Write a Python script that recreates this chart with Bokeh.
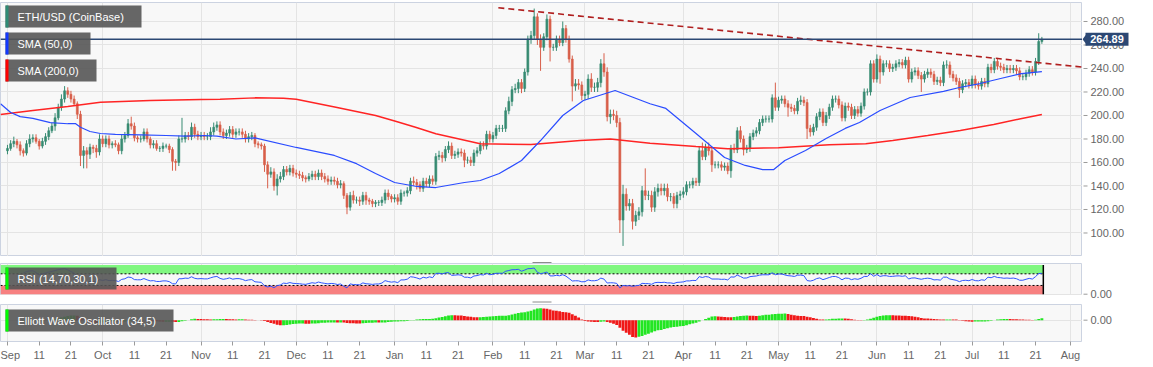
import datetime as dt
import numpy as np
import pandas as pd
from bokeh.plotting import figure
from bokeh.layouts import column, row
from bokeh.models import Range1d, FixedTicker, Span, BoxAnnotation, Label
from bokeh.core.properties import value
from bokeh.embed import file_html
from bokeh.resources import INLINE

START = dt.date(2019, 9, 1)

# ---------------- data (daily ETH/USD, Coinbase) ----------------
first_open = 170.0
close_sep = [172,176,178,175,170,168,176,180,181,178,
             174,178,182,187,191,198,207,214,221,218,
             214,210,201,166,170,167,173,172,169,180]
close_oct = [176,180,175,176,175,170,180,183,193,191,
             181,180,180,186,180,175,176,172,172,174,
             174,171,161,160,180,180,183,182,190,184,
             182]
close_nov = [183,182,182,186,190,192,186,183,185,188,
             184,186,186,184,180,182,183,176,175,174,
             158,150,152,140,146,148,154,152,155,151]
close_dec = [150,149,147,146,148,150,148,151,148,146,
             144,145,144,141,142,132,122,132,128,128,
             127,132,128,127,125,126,126,128,134,131,
             129]
close_jan = [130,127,134,134,136,144,143,141,138,144,
             142,146,144,165,166,164,171,174,166,167,
             169,168,162,162,160,168,170,175,174,184,
             180]
close_feb = [183,189,189,189,204,212,222,223,228,223,
             237,265,268,284,265,258,267,282,258,258,
             265,262,274,265,248,225,227,226,217]
close_mar = [218,231,224,224,228,244,237,199,201,200,
             194,111,133,123,125,110,115,118,136,132,
             132,122,135,138,136,138,131,131,125,132,
             133]
close_apr = [135,141,141,144,143,170,165,173,170,158,
             158,158,156,157,153,172,171,187,180,171,
             172,182,185,187,194,197,197,197,215,207]
close_may = [213,214,210,207,206,204,212,213,211,189,
             186,190,199,203,194,200,207,214,214,209,
             198,208,207,200,205,202,208,220,220,244,
             231]
close_jun = [248,237,244,244,240,241,244,245,243,247,
             231,237,238,234,231,235,237,235,229,230,
             228,243,243,235,232,229,222,227,228,226]
close_jul = [231,226,225,229,227,241,239,246,242,241,
             239,240,239,240,238,233,233,236,239,237,
             246,263,264.89]

# wick lengths above the body / below the body (USD)
upper_sep = [3,3,4,2,3,2,3,4,3,3, 2,3,3,3,3,4,3,4,4,3, 3,3,2,3,4,3,3,2,3,4]
lower_sep = [3,2,3,3,4,3,2,3,3,2, 3,2,3,3,2,4,2,3,3,3, 3,2,4,9,11,12,4,4,5,3]
upper_oct = [3,3,3,2,3,2,4,3,4,6, 3,2,3,3,3,2,3,3,2,3, 2,2,2,2,3,18,3,3,4,3, 3]
lower_oct = [3,3,3,3,2,3,3,3,2,3, 3,3,3,2,3,3,3,2,3,3, 2,3,8,7,3,3,3,3,3,3, 3]
upper_nov = [3,3,3,4,4,3,3,3,3,3, 3,3,3,3,3,3,3,2,2,2, 2,3,4,3,4,4,3,3,3,3]
lower_nov = [3,3,3,3,3,3,3,3,3,3, 3,3,3,3,3,3,3,3,3,3, 6,12,3,4,8,3,3,3,3,3]
upper_dec = [3,3,3,2,3,3,3,3,3,3, 3,3,3,3,3,2,2,3,4,3, 3,3,3,2,2,2,2,3,3,3, 2]
lower_dec = [3,3,3,3,2,3,3,3,3,3, 3,3,3,3,3,3,6,3,3,3, 4,3,4,3,3,3,3,3,3,3, 3]
upper_jan = [3,3,3,2,3,3,4,3,3,3, 3,3,3,3,4,3,3,4,3,3, 3,3,3,3,3,3,3,3,3,3, 3]
lower_jan = [3,3,3,3,3,3,3,4,3,3, 3,3,3,3,3,4,3,3,3,3, 3,3,6,3,3,3,3,3,3,3, 3]
upper_feb = [3,3,3,3,3,4,3,4,3,3, 3,3,4,7,3,4,3,4,3,3, 3,3,6,3,3,3,4,4,3]
lower_feb = [3,3,3,3,3,3,4,3,4,4, 3,3,4,3,5,20,3,3,12,3, 3,3,3,3,3,13,4,4,4]
upper_mar = [3,4,5,4,4,4,9,4,4,4, 4,4,8,5,4,4,4,4,4,19, 4,4,4,4,4,4,4,3,3,3, 3]
lower_mar = [4,4,4,4,4,4,4,4,6,4, 4,11,22,4,4,7,4,4,4,4, 4,4,4,4,4,4,4,4,4,4, 4]
upper_apr = [4,3,3,3,3,4,7,3,4,3, 3,3,3,3,3,3,4,3,4,3, 3,3,3,3,3,3,3,3,3,13]
lower_apr = [3,3,3,3,3,3,3,3,4,6, 3,3,3,3,3,6,3,3,3,5, 3,3,3,3,3,3,3,3,3,3]
upper_may = [3,3,3,3,3,3,3,4,3,3, 3,3,3,3,3,3,3,3,3,3, 3,3,3,3,3,3,3,3,3,3, 3]
lower_may = [3,3,3,8,3,3,3,3,3,9, 4,3,3,3,3,3,3,3,3,3, 3,3,3,3,3,3,3,3,3,3, 3]
upper_jun = [4,3,3,3,3,3,3,3,3,3, 3,3,3,3,3,3,3,3,3,3, 3,3,4,3,3,3,3,3,3,3]
lower_jun = [3,10,3,3,3,3,3,3,3,3, 3,3,3,3,11,3,3,3,3,3, 3,3,3,3,3,3,7,3,3,3]
upper_jul = [3,3,3,3,3,3,3,3,3,3, 3,3,3,3,3,3,3,3,3,3, 3,7,2]
lower_jul = [3,3,3,3,3,3,3,3,3,3, 3,3,3,3,3,3,3,3,3,3, 3,3,2]

# moving averages (day index, value)
sma50_days = [-2.2, 1, 4, 8, 13.5, 19, 21.5, 23, 26, 29.3, 34, 42, 50, 56, 62, 66, 72, 78, 91, 103,
              110, 116, 122, 129, 135, 144, 149, 155, 162, 168, 175, 181.5, 191.5, 202.5, 207.5,
              217, 226, 232.5, 238, 241.5, 245, 251.5, 258, 264, 268.5, 275, 284.5, 295, 300,
              306.5, 313, 319.5, 326]
sma50_vals = [210, 202.5, 199, 197.5, 194, 193, 193, 190, 186.4, 184.7, 184, 183.5, 183, 182.5, 183,
              182.5, 180, 181, 172.8, 166, 159, 150.6, 143, 139.6, 138.7, 143, 144.7, 150.6, 161.7,
              178.7, 200, 212.8, 221.3, 210, 206, 184.7, 164.3, 157.5, 154, 154, 161.7, 170.2,
              180.4, 189, 194, 204.3, 215.3, 220.5, 223.8, 227.2, 231.5, 235.7, 237.4]
sma200_days = [-2.2, 8, 19, 29.3, 45, 61, 67, 78, 87, 91, 103.5, 116, 122.3, 128.6, 135, 149, 165,
               180.5, 190, 202.5, 217, 227, 243, 259, 270.5, 279, 290, 300.3, 310.8, 319.3, 326]
sma200_vals = [200.8, 204.3, 207.7, 211.3, 212.8, 213.6, 213.9, 215, 214.7, 213.9, 207, 200, 195.1,
               190, 184.4, 175.9, 175.3, 178.7, 180, 176.4, 173.6, 171.8, 172.5, 175.1, 175.9,
               178.7, 183, 187.2, 192.3, 197.2, 200.8]

trend_days = [154.7, 339.0]
trend_vals = [291.7, 241.1]
last_price = 264.89

price_ticks = [100, 120, 140, 160, 180, 200, 220, 240, 260, 280]
osc_ticks = [0]
tick_dates = ["2019-09-01","2019-09-11","2019-09-21","2019-10-01","2019-10-11","2019-10-21",
              "2019-11-01","2019-11-11","2019-11-21","2019-12-01","2019-12-11","2019-12-21",
              "2020-01-01","2020-01-11","2020-01-21","2020-02-01","2020-02-11","2020-02-21",
              "2020-03-01","2020-03-11","2020-03-21","2020-04-01","2020-04-11","2020-04-21",
              "2020-05-01","2020-05-11","2020-05-21","2020-06-01","2020-06-11","2020-06-21",
              "2020-07-01","2020-07-11","2020-07-21","2020-08-01"]
tick_labels = ["Sep","11","21","Oct","11","21","Nov","11","21","Dec","11","21",
               "Jan","11","21","Feb","11","21","Mar","11","21","Apr","11","21",
               "May","11","21","Jun","11","21","Jul","11","21","Aug"]
month_dates = ["2019-09-01","2019-10-01","2019-11-01","2019-12-01","2020-01-01","2020-02-01",
               "2020-03-01","2020-04-01","2020-05-01","2020-06-01","2020-07-01","2020-08-01"]

# ---------------- assemble ----------------
close = (close_sep + close_oct + close_nov + close_dec + close_jan + close_feb + close_mar +
         close_apr + close_may + close_jun + close_jul)
upper = (upper_sep + upper_oct + upper_nov + upper_dec + upper_jan + upper_feb + upper_mar +
         upper_apr + upper_may + upper_jun + upper_jul)
lower = (lower_sep + lower_oct + lower_nov + lower_dec + lower_jan + lower_feb + lower_mar +
         lower_apr + lower_may + lower_jun + lower_jul)


def day(s):
    return (dt.date.fromisoformat(s) - START).days


tick_days = [day(s) for s in tick_dates]
month_days = [day(s) for s in month_dates]

n = len(close)
days = np.arange(n)
c = np.array(close, float)
o = np.concatenate([[first_open], c[:-1]])
h = np.maximum(o, c) + np.array(upper, float)
l = np.minimum(o, c) - np.array(lower, float)

INC, DEC = "#378b72", "#d85f4a"
cols = [INC if cc >= oo else DEC for oo, cc in zip(o, c)]

diff = c - o
gain = pd.Series(np.clip(diff, 0, None))
loss = pd.Series(np.clip(-diff, 0, None))
ag = gain.ewm(alpha=1 / 14, adjust=False).mean()
al = loss.ewm(alpha=1 / 14, adjust=False).mean()
rsi = (100 - 100 / (1 + ag / al.replace(0, np.nan))).fillna(100).values

med = pd.Series((h + l) / 2)
ewo = (med.rolling(5, min_periods=1).mean() - med.rolling(34, min_periods=1).mean()).values
ewo_cols = ["#22e622" if (i == 0 or ewo[i] >= ewo[i - 1]) else "#f01818" for i in range(n)]

# ---------------- figures ----------------
FONT = "Liberation Sans"
FW, AW = 1082, 71
xr = Range1d(-2.2, 338.8)
BG, GRID, OUT = "#f8f8f8", "#e4e4e4", "#ccd3e1"
TXT = "#666666"


def panel(height, yr, top, bottom, yticks, xaxis=False):
    p = figure(width=FW, height=height, x_range=xr, y_range=yr,
               x_axis_location="below" if xaxis else None, y_axis_location=None,
               toolbar_location=None, output_backend="svg",
               min_border_left=0, min_border_right=0, min_border_top=top, min_border_bottom=bottom,
               background_fill_color=BG, border_fill_color="white", outline_line_color=OUT)
    p.xgrid.ticker = FixedTicker(ticks=month_days)
    p.xgrid.grid_line_color = GRID
    p.ygrid.ticker = FixedTicker(ticks=yticks)
    p.ygrid.grid_line_color = GRID
    return p


def axis_panel(height, yr, top, bottom, yticks):
    a = figure(width=AW, height=height, x_range=Range1d(0, AW), y_range=yr,
               x_axis_location=None, y_axis_location=None, toolbar_location=None,
               output_backend="svg", min_border_left=0, min_border_right=0,
               min_border_top=top, min_border_bottom=bottom,
               background_fill_color="white", border_fill_color="white", outline_line_color=None)
    a.grid.visible = False
    a.segment(x0=1, y0=yticks, x1=5, y1=yticks, line_color="#9a9a9a", line_width=1)
    a.text(x=8, y=yticks, text=[f"{t:.2f}" for t in yticks], text_font=value(FONT),
           text_font_size="11px", text_color=TXT, text_baseline="middle", text_align="left")
    return a


def handle(width, height, ys):
    g = figure(width=width, height=height, x_range=Range1d(0, width), y_range=Range1d(height, 0),
               x_axis_location=None, y_axis_location=None, toolbar_location=None,
               output_backend="svg", min_border=0, background_fill_color="white",
               border_fill_color="white", outline_line_color=None)
    g.grid.visible = False
    g.segment(x0=[532] * len(ys), y0=ys, x1=[551] * len(ys), y1=ys, line_color="#8c8c8c", line_width=1)
    return g


def tag(p, x0, x1, y0, y1, strip, text):
    kw = dict(left_units="canvas", right_units="canvas", top_units="canvas", bottom_units="canvas",
              line_color=None)
    p.add_layout(BoxAnnotation(left=x0, right=x1, top=y0, bottom=y1, fill_color="#555555",
                               fill_alpha=0.9, **kw))
    p.add_layout(BoxAnnotation(left=x0, right=x0 + 3, top=y0, bottom=y1, fill_color=strip,
                               fill_alpha=1.0, **kw))
    p.add_layout(Label(x=x0 + 12, y=(y0 + y1) / 2, x_units="canvas", y_units="canvas", text=text,
                       text_color="white", text_font=FONT, text_font_size="11px",
                       text_baseline="middle", text_align="left"))


# main price panel
yr1 = Range1d(80.0, 296.17)
p1 = panel(256, yr1, 2, 0, price_ticks)
p1.segment(x0=days, y0=l, x1=days, y1=h, color=cols, line_width=1)
p1.vbar(x=days, width=0.62, top=np.maximum(o, c), bottom=np.minimum(o, c),
        fill_color=cols, line_color=cols, line_width=0.6)
p1.line(sma200_days, sma200_vals, color="#ff2424", line_width=1.5)
p1.line(sma50_days, sma50_vals, color="#2a4cff", line_width=1.2)
p1.line(trend_days, trend_vals, color="#b01e1e", line_width=1.6, line_dash="6 4")
p1.add_layout(Span(location=last_price, dimension="width", line_color="#2c4874", line_width=1.4))
tag(p1, 5, 141, 5, 27, "#2e8b75", "ETH/USD (CoinBase)")
tag(p1, 5, 90, 32, 54, "#1238ff", "SMA (50,0)")
tag(p1, 5, 96, 59, 81, "#ff0000", "SMA (200,0)")

a1 = axis_panel(256, yr1, 2, 0, price_ticks)
a1.quad(left=[3], right=[46], bottom=[last_price - 5.6], top=[last_price + 5.6],
        fill_color="#2c4874", line_color=None)
a1.patch(x=[0, 3.5, 3.5], y=[last_price, last_price + 3.8, last_price - 3.8],
         fill_color="#2c4874", line_color=None)
a1.text(x=[24.5], y=[last_price], text=[f"{last_price:.2f}"], text_font=value(FONT),
        text_font_size="11px", text_font_style="bold", text_color="white",
        text_align="center", text_baseline="middle")

h1 = handle(FW + AW, 7, [1, 3.5])

# RSI panel (its axis strip also spans the 9px gap below it)
yr2 = Range1d(-4.5, 105.5)
p2 = panel(32, yr2, 0, 0, osc_ticks)
x_end = n - 1 + 0.45
p2.quad(left=[xr.start], right=[x_end], bottom=[70], top=[100], fill_color="#80f780", line_color=None)
p2.quad(left=[xr.start], right=[x_end], bottom=[0], top=[30], fill_color="#f78080", line_color=None)
p2.line([xr.start, x_end], [70, 70], color="black", line_width=1, line_dash="2 2")
p2.line([xr.start, x_end], [30, 30], color="black", line_width=1, line_dash="2 2")
p2.segment(x0=[x_end], y0=[0], x1=[x_end], y1=[100], color="black", line_width=1.5)
p2.line(days[5:], rsi[5:], color="#2f55ff", line_width=1)
tag(p2, 5, 116, 4, 26, "#00ff00", "RSI (14,70,30,1)")
rsi_per_px = (yr2.end - yr2.start) / 32.0
a2 = axis_panel(41, Range1d(yr2.start - 9 * rsi_per_px, yr2.end), 0, 0, osc_ticks)
h2 = handle(FW, 9, [3.5, 6])

# Elliott Wave Oscillator panel
yr3 = Range1d(-125, 92)
p3 = panel(63, yr3, 0, 26, osc_ticks, xaxis=True)
p3.vbar(x=days, width=0.9, top=ewo, bottom=0, fill_color=ewo_cols, line_color=None)
xa = p3.xaxis[0]
xa.ticker = FixedTicker(ticks=tick_days)
xa.major_label_overrides = {d: s for d, s in zip(tick_days, tick_labels)}
xa.axis_line_color = None
xa.major_tick_line_color = "#9a9a9a"
xa.major_tick_out = 4
xa.major_tick_in = 0
xa.minor_tick_line_color = None
xa.major_label_standoff = 3
xa.major_label_text_font = FONT
xa.major_label_text_font_size = "11px"
xa.major_label_text_color = TXT
tag(p3, 5, 173, 5, 27, "#00ff00", "Elliott Wave Oscillator (34,5)")
a3 = axis_panel(63, yr3, 0, 26, osc_ticks)

layout = column(row(p1, a1), h1, row(column(p2, h2), a2), row(p3, a3), spacing=0)
open("out.html", "w").write(file_html(layout, INLINE))
